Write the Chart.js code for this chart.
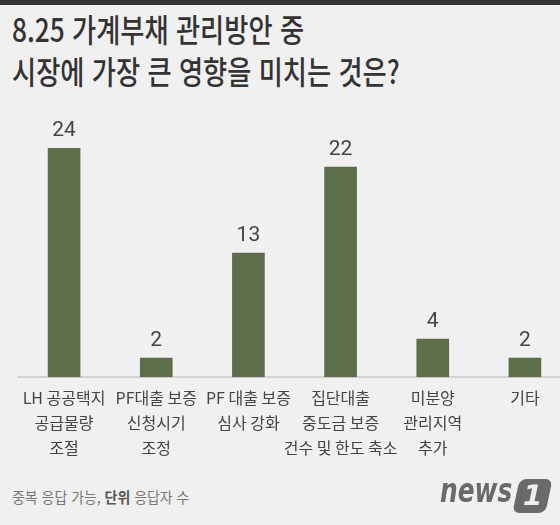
<!DOCTYPE html>
<html lang="ko">
<head>
<meta charset="utf-8">
<script src="https://cdn.jsdelivr.net/npm/chart.js@4"></script>
<style>
    html, body { margin: 0; padding: 0; }
    body {
        width: 560px; height: 525px; overflow: hidden; position: relative;
        background: #f0f0f0;
        font-family: "Noto Sans CJK KR", "Noto Sans", sans-serif;
    }
    .topbar { position: absolute; left: 0; top: 0; width: 560px; height: 5px; background: #353535; }
    .title {
        position: absolute; left: 12px; top: 7px; margin: 0;
        font-size: 32px; font-weight: 500; line-height: 42px; color: #333;
        transform: scaleX(0.82); transform-origin: left top; white-space: nowrap;
    }
    .chartBox { position: absolute; left: 0; top: 100px; width: 580px; height: 371px; }
    .note {
        position: absolute; left: 12px; top: 486px; font-size: 15px; color: #777;
        transform: scaleX(0.93); transform-origin: left top; white-space: nowrap;
    }
    .note b { color: #555; font-weight: 700; }
    .logoText {
        position: absolute; left: 440px; top: 473px; white-space: nowrap;
        font-family: "DejaVu Sans", sans-serif; font-weight: 700; font-style: italic;
        font-size: 34px; line-height: 34px; color: #6a6a6a;
        transform: scaleX(0.73); transform-origin: left top;
    }
    .logoBox {
        position: absolute; left: 516px; top: 479px; width: 33px; height: 34px;
        background: #6a6a6a; color: #f0f0f0; border-radius: 7px; text-align: center;
        transform: skewX(-12deg);
        font-family: "DejaVu Sans", sans-serif; font-weight: 700; font-size: 28px; line-height: 34px;
    }
</style>
</head>
<body>
<div class="topbar"></div>
<div class="title">8.25 가계부채 관리방안 중<br>시장에 가장 큰 영향을 미치는 것은?</div>
<div class="chartBox"><canvas id="chart"></canvas></div>
<div class="note">중복 응답 가능, <b>단위</b> 응답자 수</div>
<div class="logoText">news</div>
<div class="logoBox">1</div>

<script>
// 항목 (여러 줄 라벨)
const categories = [
    ["LH 공공택지", "공급물량", "조절"],
    ["PF대출 보증", "신청시기", "조정"],
    ["PF 대출 보증", "심사 강화"],
    ["집단대출", "중도금 보증", "건수 및 한도 축소"],
    ["미분양", "관리지역", "추가"],
    ["기타"]
];
// 응답자 수
const responses = [24, 2, 13, 22, 4, 2];

const barColor = "#5d6f4a";

// 막대 위 숫자
const valueLabels = {
    id: "valueLabels",
    afterDatasetsDraw(chart) {
        const ctx = chart.ctx;
        const meta = chart.getDatasetMeta(0);
        ctx.save();
        ctx.font = "21px Roboto";
        ctx.fillStyle = "#444";
        ctx.textAlign = "center";
        ctx.textBaseline = "bottom";
        meta.data.forEach((bar, i) => {
            ctx.fillText(String(responses[i]), bar.x, bar.y - 7);
        });
        ctx.restore();
    }
};

new Chart(document.getElementById("chart"), {
    type: "bar",
    data: {
        labels: categories,
        datasets: [{
            data: responses,
            backgroundColor: barColor,
            barThickness: 32
        }]
    },
    options: {
        responsive: true,
        maintainAspectRatio: false,
        animation: false,
        layout: { padding: { top: 48, left: 18, right: 9, bottom: 10 } },
        plugins: {
            legend: { display: false },
            tooltip: { enabled: false }
        },
        scales: {
            x: {
                grid: { display: false },
                border: { display: true, color: "rgba(0,0,0,0.12)", width: 2 },
                ticks: {
                    color: "#444",
                    font: { family: "'Noto Sans CJK KR'", size: 16, lineHeight: 1.58 },
                    padding: 0,
                    autoSkip: false,
                    maxRotation: 0
                }
            },
            y: {
                display: false,
                min: 0,
                max: 24
            }
        }
    },
    plugins: [valueLabels]
});
</script>
</body>
</html>
